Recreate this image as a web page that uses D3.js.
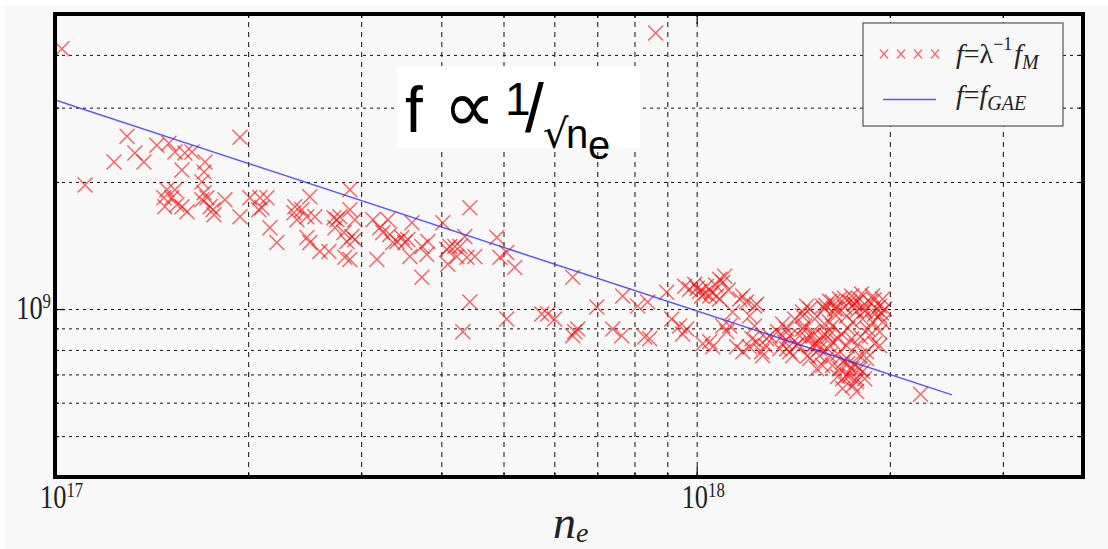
<!DOCTYPE html>
<html>
<head>
<meta charset="utf-8">
<script src="https://cdn.jsdelivr.net/npm/d3@7"></script>
<style>
  html, body { margin: 0; padding: 0; background: #fff; }
  svg { display: block; }
</style>
</head>
<body>
<div id="chart"></div>
<script>
// measured points: n_e in units of 1e17, f in units of 1e9
const neUnit = 1e17;
const fUnit = 1e9;
const neValues = [
  1.025, 1.295, 1.942, 1.236, 1.332, 1.376, 1.441, 1.505, 1.538, 1.594, 1.635, 1.577, 1.713, 1.707, 1.694, 1.114,
  1.494, 1.538, 1.478, 1.521, 1.549, 1.483, 1.606, 1.577, 1.707, 1.725, 1.694, 1.744, 1.769, 1.840, 1.942, 1.763,
  2.012, 2.086, 2.139, 2.078, 2.162, 2.217, 2.365, 2.357, 2.425, 2.382, 2.495, 2.469, 2.541, 2.469, 2.495, 2.587,
  2.672, 2.720, 2.750, 2.779, 2.730, 2.820, 2.850, 2.829, 2.881, 2.881, 2.902, 2.101,
  2.933, 2.933, 2.881, 3.129, 3.208, 3.174, 3.302, 3.325, 3.410, 3.472, 3.509, 3.547, 3.599, 3.573, 3.730, 3.797,
  3.811, 3.730, 4.021, 4.079, 4.124, 4.199, 4.275, 4.094, 4.229, 4.352, 4.384, 4.511, 4.431, 4.431, 4.321, 3.243, 3.361,
  4.881, 4.934, 5.058, 5.205, 5.058, 5.735, 5.860, 6.008, 6.410, 6.410, 6.527, 6.457, 6.987, 7.399, 7.642, 7.669,
  8.092, 8.298, 8.631, 8.388, 8.448,
  8.980, 9.143, 9.409, 9.510, 9.648, 9.752, 9.929, 10.11, 10.36, 10.18, 10.55, 10.98, 10.86, 10.48, 10.59, 10.22,
  11.67, 11.96, 12.31, 10.98, 11.26, 11.54, 11.80, 12.09, 12.40, 12.62, 12.31, 12.99, 13.37, 13.61, 13.96, 13.81,
  14.11, 14.31, 9.579, 10.86, 11.06, 10.74, 10.48, 11.80, 12.40, 11.38, 12.09, 11.14, 12.85, 12.67, 13.61, 13.47,
  13.81, 13.71, 13.96, 14.62, 14.84, 14.73, 14.47, 15.16, 15.16, 14.89, 15.54, 15.82, 16.11, 16.52, 16.11, 15.71,
  16.28, 16.11, 15.71, 16.28, 16.70, 16.88, 17.31, 17.50, 17.75, 17.94, 17.13, 17.94, 17.13, 17.75, 18.40, 16.70,
  17.31, 17.75, 18.14, 18.60, 19.07, 19.28, 19.49, 18.80, 18.14, 17.50, 17.13, 19.28, 18.60, 19.49, 17.44, 18.07,
  18.80, 14.62, 15.00, 14.62, 15.16, 15.71, 16.28, 17.94, 19.28, 16.28, 15.54, 15.00, 15.38, 17.13, 17.75, 17.75,
  16.88, 18.14, 18.40, 19.28, 22.33,
  10.02, 10.30, 10.70, 11.20, 15.90, 16.40, 17.00, 17.60, 18.30, 18.90, 19.40, 16.00, 16.60, 17.20, 18.00, 15.30,
  16.90, 17.60, 12.20, 12.80,
  15.27, 15.82, 16.41, 17.00, 17.63, 18.27, 18.94, 19.63, 15.44, 16.00, 16.58, 17.19, 16.58, 17.44, 18.27, 14.21,
  14.37, 14.89, 16.00, 16.82, 17.44, 18.94, 18.47
];
const fValues = [
  4.136, 2.567, 2.553, 2.230, 2.341, 2.230, 2.445, 2.471, 2.354, 2.341, 2.354, 2.135, 2.230, 2.112, 2.001, 1.968,
  1.916, 1.916, 1.835, 1.835, 1.766, 1.747, 1.701, 1.747, 1.885, 1.835, 1.815, 1.747, 1.673, 1.815, 1.655, 1.719,
  1.835, 1.835, 1.835, 1.719, 1.559, 1.437, 1.747, 1.691, 1.719, 1.628, 1.845, 1.655, 1.655, 1.477, 1.437, 1.369,
  1.369, 1.646, 1.628, 1.655, 1.559, 1.518, 1.445, 1.326, 1.916, 1.719, 1.485, 1.738,
  1.628, 1.461, 1.311, 1.628, 1.559, 1.311, 1.628, 1.501, 1.445, 1.477, 1.437, 1.461, 1.602, 1.332, 1.406, 1.347,
  1.445, 1.189, 1.602, 1.384, 1.406, 1.406, 1.406, 1.276, 1.332, 1.485, 1.326, 1.332, 1.738, 1.039, 0.883, 1.518, 1.437,
  1.477, 1.326, 1.362, 1.255, 0.947, 0.973, 0.973, 0.947, 1.189, 0.864, 0.897, 0.883, 1.011, 0.897, 0.864, 1.073,
  1.016, 0.859, 4.510, 1.039, 0.850,
  1.096, 0.947, 0.912, 0.873, 0.897, 1.114, 1.145, 1.102, 1.133, 1.073, 1.096, 1.157, 1.056, 0.836, 0.814, 0.827,
  1.056, 1.039, 1.016, 0.912, 0.912, 0.814, 0.792, 0.814, 0.836, 0.792, 0.912, 0.864, 0.883, 0.922, 0.864, 0.805,
  0.775, 0.818, 1.133, 1.176, 1.196, 1.073, 1.073, 1.073, 1.027, 0.984, 0.963, 0.883, 0.850, 0.775, 0.864, 0.805,
  0.897, 0.836, 0.792, 0.984, 1.016, 0.912, 0.864, 0.864, 0.818, 0.775, 0.775, 1.000, 1.044, 1.000, 0.932, 0.864,
  0.836, 0.775, 0.735, 0.735, 0.722, 0.684, 0.696, 0.659, 0.684, 0.722, 0.763, 0.775, 0.818, 0.818, 0.792, 1.056,
  1.039, 0.989, 1.016, 1.039, 1.000, 0.963, 0.932, 0.932, 0.947, 0.932, 0.963, 0.818, 0.864, 1.056, 1.073, 1.085,
  1.073, 0.963, 1.000, 0.897, 0.883, 1.016, 1.039, 1.056, 1.016, 0.912, 0.805, 0.763, 0.722, 0.696, 0.673, 0.638,
  0.648, 0.711, 0.763, 0.883, 0.628,
  1.120, 1.090, 1.140, 1.110, 1.020, 1.000, 1.060, 1.030, 0.990, 1.050, 0.980, 0.880, 0.850, 0.900, 0.860, 0.830,
  0.750, 0.740, 0.850, 0.820,
  0.947, 0.922, 0.973, 1.011, 1.027, 0.989, 0.973, 1.000, 0.827, 0.805, 0.784, 0.742, 0.692, 0.722, 0.684, 0.947,
  0.827, 0.850, 0.859, 0.873, 0.850, 0.827, 0.897
];

// GAE fit line, end points
const gaeNe = [1e17, 2.5e18];
const gaeF = [3.13e9, 6.26e8];

const xMajorTicks = [1e17, 1e18];
const xMajorExp = ["17", "18"];
const xMinorTicks = [2e17, 3e17, 4e17, 5e17, 6e17, 7e17, 8e17, 9e17, 2e18, 3e18];
const yMajorTicks = [1e9];
const yMajorExp = ["9"];
const yMinorTicks = [5e8, 6e8, 7e8, 8e8, 9e8, 2e9, 3e9, 4e9];

const W = 1108, H = 549;
const m = {left: 55, top: 14, right: 1083, bottom: 477};
const bg = "#f8f8f8";

const x = d3.scaleLog().domain([1e17, 4e18]).range([m.left, m.right]);
const y = d3.scaleLog().domain([4e8, 5e9]).range([m.bottom, m.top]);

const svg = d3.select("#chart").append("svg")
  .attr("width", W)
  .attr("height", H);

svg.append("rect")
  .attr("x", 5).attr("y", 6)
  .attr("width", W - 5).attr("height", H - 6)
  .attr("fill", bg);

svg.append("defs").append("clipPath").attr("id", "plotclip")
  .append("rect")
  .attr("x", m.left).attr("y", m.top)
  .attr("width", m.right - m.left).attr("height", m.bottom - m.top);

// grid
svg.append("g")
  .attr("transform", "translate(0," + m.bottom + ")")
  .call(d3.axisBottom(x).tickValues(xMinorTicks.concat([1e18])).tickSize(-(m.bottom - m.top)).tickFormat(""))
  .call(g => g.select(".domain").remove())
  .selectAll("line")
  .attr("stroke", "#111")
  .attr("stroke-dasharray", "5,5");

svg.append("g")
  .attr("transform", "translate(" + m.left + ",0)")
  .call(d3.axisLeft(y).tickValues(yMinorTicks.concat(yMajorTicks)).tickSize(-(m.right - m.left)).tickFormat(""))
  .call(g => g.select(".domain").remove())
  .selectAll("line")
  .attr("stroke", "#111")
  .attr("stroke-dasharray", "3,4");

// scatter
const pts = neValues.map((n, i) => ({ne: n * neUnit, f: fValues[i] * fUnit}));

const plot = svg.append("g").attr("clip-path", "url(#plotclip)");

plot.selectAll("path.pt")
  .data(pts)
  .enter().append("path")
  .attr("class", "pt")
  .attr("d", "M-7.5,-7.5L7.5,7.5M-7.5,7.5L7.5,-7.5")
  .attr("transform", d => "translate(" + x(d.ne) + "," + y(d.f) + ")")
  .attr("fill", "none")
  .attr("stroke", "#ff0000")
  .attr("stroke-width", 1.4)
  .attr("stroke-opacity", 0.62);

plot.append("path")
  .datum(gaeNe.map((n, i) => [n, gaeF[i]]))
  .attr("d", d3.line().x(d => x(d[0])).y(d => y(d[1])))
  .attr("fill", "none")
  .attr("stroke", "#3030ff")
  .attr("stroke-opacity", 0.8)
  .attr("stroke-width", 1.5);

// annotation f ∝ 1/√n_e
const sans = "Liberation Sans, Arial, sans-serif";
const dejavu = "DejaVu Sans, sans-serif";
const note = svg.append("g");
note.append("rect")
  .attr("x", 397).attr("y", 66).attr("width", 243).attr("height", 82)
  .attr("fill", "#fff");
const nt = note.append("text").attr("font-family", sans).attr("fill", "#000");
nt.append("tspan").attr("x", 405).attr("y", 132).attr("font-size", 64).text("f");
nt.append("tspan").attr("x", 443).attr("y", 132).attr("font-size", 74).attr("font-family", dejavu).text("\u221d");
nt.append("tspan").attr("x", 505).attr("y", 115).attr("font-size", 46).text("1");
nt.append("tspan").attr("x", 525).attr("y", 132).attr("font-size", 68).text("/");
nt.append("tspan").attr("x", 543).attr("y", 148).attr("font-size", 40).attr("font-family", dejavu).text("\u221a");
nt.append("tspan").attr("x", 566).attr("y", 148).attr("font-size", 40).text("n");
nt.append("tspan").attr("x", 588).attr("y", 159).attr("font-size", 40).text("e");

// legend
const serif = "Liberation Serif, Times New Roman, serif";
const lg = svg.append("g");
lg.append("rect")
  .attr("x", 863).attr("y", 23).attr("width", 200).attr("height", 103)
  .attr("fill", bg).attr("stroke", "#555").attr("stroke-width", 1.2);
lg.selectAll("path.lx")
  .data([884, 901, 918, 935])
  .enter().append("path")
  .attr("class", "lx")
  .attr("d", "M-4,-4.5L4,4.5M-4,4.5L4,-4.5")
  .attr("transform", d => "translate(" + d + ",54)")
  .attr("stroke", "#ff0000").attr("stroke-opacity", 0.6).attr("stroke-width", 1.2).attr("fill", "none");
lg.append("line")
  .attr("x1", 883).attr("x2", 936).attr("y1", 99.5).attr("y2", 99.5)
  .attr("stroke", "#3030ff").attr("stroke-opacity", 0.8).attr("stroke-width", 1.5);

const t1 = lg.append("text").attr("x", 956).attr("y", 63)
  .attr("font-family", serif).attr("font-size", 28).attr("fill", "#222");
t1.append("tspan").attr("font-style", "italic").text("f");
t1.append("tspan").text("=\u03bb");
t1.append("tspan").attr("font-size", 18).attr("dy", -13).text("\u22121");
t1.append("tspan").attr("font-style", "italic").attr("dx", 2).attr("dy", 13).text("f");
t1.append("tspan").attr("font-style", "italic").attr("font-size", 20).attr("dy", 6).text("M");

const t2 = lg.append("text").attr("x", 956).attr("y", 104)
  .attr("font-family", serif).attr("font-size", 28).attr("fill", "#222");
t2.append("tspan").attr("font-style", "italic").text("f");
t2.append("tspan").text("=");
t2.append("tspan").attr("font-style", "italic").text("f");
t2.append("tspan").attr("font-style", "italic").attr("font-size", 20).attr("dy", 6).text("GAE");

// inward ticks on all four sides
function tickSet(axisFn, scale, vals, size, tr) {
  svg.append("g")
    .attr("transform", tr)
    .call(axisFn(scale).tickValues(vals).tickSize(-size).tickFormat(""))
    .call(g => g.select(".domain").remove())
    .selectAll("line").attr("stroke", "#000").attr("stroke-width", 1.2);
}
tickSet(d3.axisBottom, x, xMinorTicks, 4, "translate(0," + m.bottom + ")");
tickSet(d3.axisBottom, x, xMajorTicks, 10, "translate(0," + m.bottom + ")");
tickSet(d3.axisTop, x, xMinorTicks, 4, "translate(0," + m.top + ")");
tickSet(d3.axisTop, x, xMajorTicks, 10, "translate(0," + m.top + ")");
tickSet(d3.axisLeft, y, yMinorTicks, 4, "translate(" + m.left + ",0)");
tickSet(d3.axisLeft, y, yMajorTicks, 10, "translate(" + m.left + ",0)");
tickSet(d3.axisRight, y, yMinorTicks, 4, "translate(" + m.right + ",0)");
tickSet(d3.axisRight, y, yMajorTicks, 10, "translate(" + m.right + ",0)");

// frame
svg.append("rect")
  .attr("x", m.left).attr("y", m.top)
  .attr("width", m.right - m.left).attr("height", m.bottom - m.top)
  .attr("fill", "none").attr("stroke", "#000").attr("stroke-width", 4);

// tick labels (10^k)
xMajorTicks.forEach((v, i) => {
  const t = svg.append("text")
    .attr("transform", "translate(" + (x(v) - 15) + ",508) scale(0.8,1)")
    .attr("font-family", serif).attr("font-size", 33).attr("fill", "#222");
  t.append("tspan").text("10");
  t.append("tspan").attr("font-size", 21).attr("dy", -11).text(xMajorExp[i]);
});
yMajorTicks.forEach((v, i) => {
  const t = svg.append("text")
    .attr("transform", "translate(" + (m.left - 4) + "," + (y(v) + 10) + ") scale(0.8,1)")
    .attr("text-anchor", "end")
    .attr("font-family", serif).attr("font-size", 33).attr("fill", "#222");
  t.append("tspan").text("10");
  t.append("tspan").attr("font-size", 21).attr("dy", -11).text(yMajorExp[i]);
});

// axis title
const xt = svg.append("text").attr("x", 553).attr("y", 538)
  .attr("font-family", serif).attr("fill", "#222");
xt.append("tspan").attr("font-style", "italic").attr("font-size", 46).text("n");
xt.append("tspan").attr("font-style", "italic").attr("font-size", 28).attr("dy", 4).text("e");
</script>
</body>
</html>
